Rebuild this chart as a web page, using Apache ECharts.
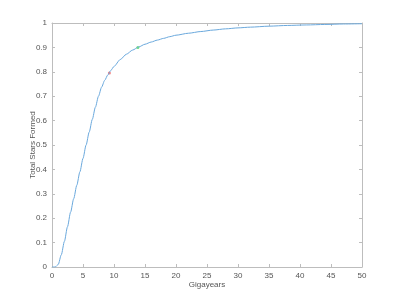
<!DOCTYPE html>
<html><head><meta charset="utf-8">
<script src="https://cdn.jsdelivr.net/npm/echarts@6/dist/echarts.min.js"></script>
<style>html,body{margin:0;padding:0;background:#fff}#c{width:400px;height:300px}</style>
</head><body><div id="c"></div>
<script>
var gigayears = [0,0.5,1,1.5,2,2.5,3,3.5,4,4.5,5,5.5,6,6.5,7,7.5,8,8.5,9,9.5,10,11,12,13,14,15,16,17,18,19,20,22,24,26,28,30,32,35,38,41,44,47,50];
var starsFormed = [0,0,0.01,0.05,0.105,0.165,0.225,0.28,0.335,0.39,0.445,0.5,0.553,0.605,0.655,0.7,0.737,0.765,0.787,0.806,0.822,0.85,0.872,0.889,0.902,0.913,0.922,0.93,0.937,0.944,0.95,0.958,0.965,0.971,0.976,0.98,0.983,0.987,0.99,0.992,0.994,0.996,0.997];
var redPoint = [9.25, 0.795];
var greenPoint = [13.85, 0.9];
var xName = 'Gigayears';
var yName = 'Total Stars Formed';

var axisCol = '#bdbdbd', labCol = '#555';
var chart = echarts.init(document.getElementById('c'), null, {renderer:'canvas'});
var lineData = gigayears.map(function(x,i){return [x, starsFormed[i]];});
var baseX = {type:'value', min:0, max:50, interval:5, axisLine:{show:true, onZero:false, lineStyle:{color:axisCol,width:1}}, axisTick:{show:true, inside:true, length:3, lineStyle:{color:axisCol}}, splitLine:{show:false}};
var baseY = {type:'value', min:0, max:1, interval:0.1, axisLine:{show:true, onZero:false, lineStyle:{color:axisCol,width:1}}, axisTick:{show:true, inside:true, length:3, lineStyle:{color:axisCol}}, splitLine:{show:false}};
chart.setOption({
  animation:false,
  grid:{left:52, right:38, top:23, bottom:33, containLabel:false},
  xAxis:[
    Object.assign({}, baseX, {position:'bottom', name:xName, nameLocation:'middle', nameGap:14, nameMoveOverlap:false, nameTextStyle:{color:labCol, fontSize:8, fontFamily:'Liberation Sans'}, axisLabel:{color:labCol, fontSize:8, margin:5, fontFamily:'Liberation Sans'}}),
    Object.assign({}, baseX, {position:'top', axisLabel:{show:false}})
  ],
  yAxis:[
    Object.assign({}, baseY, {position:'left', name:yName, nameLocation:'middle', nameGap:15, nameMoveOverlap:false, nameTextStyle:{color:labCol, fontSize:8, fontFamily:'Liberation Sans'}, axisLabel:{color:labCol, fontSize:8, margin:5, fontFamily:'Liberation Sans'}}),
    Object.assign({}, baseY, {position:'right', axisLabel:{show:false}})
  ],
  series:[
    {type:'line', data:lineData, smooth:0.25, smoothMonotone:'x', showSymbol:false, lineStyle:{color:'#6aa8dc', width:1}},
    {type:'scatter', data:[redPoint], symbol:'circle', symbolSize:3, itemStyle:{color:'#f06060'}},
    {type:'scatter', data:[greenPoint], symbol:'circle', symbolSize:3, itemStyle:{color:'#50e050'}}
  ]
});
</script></body></html>
